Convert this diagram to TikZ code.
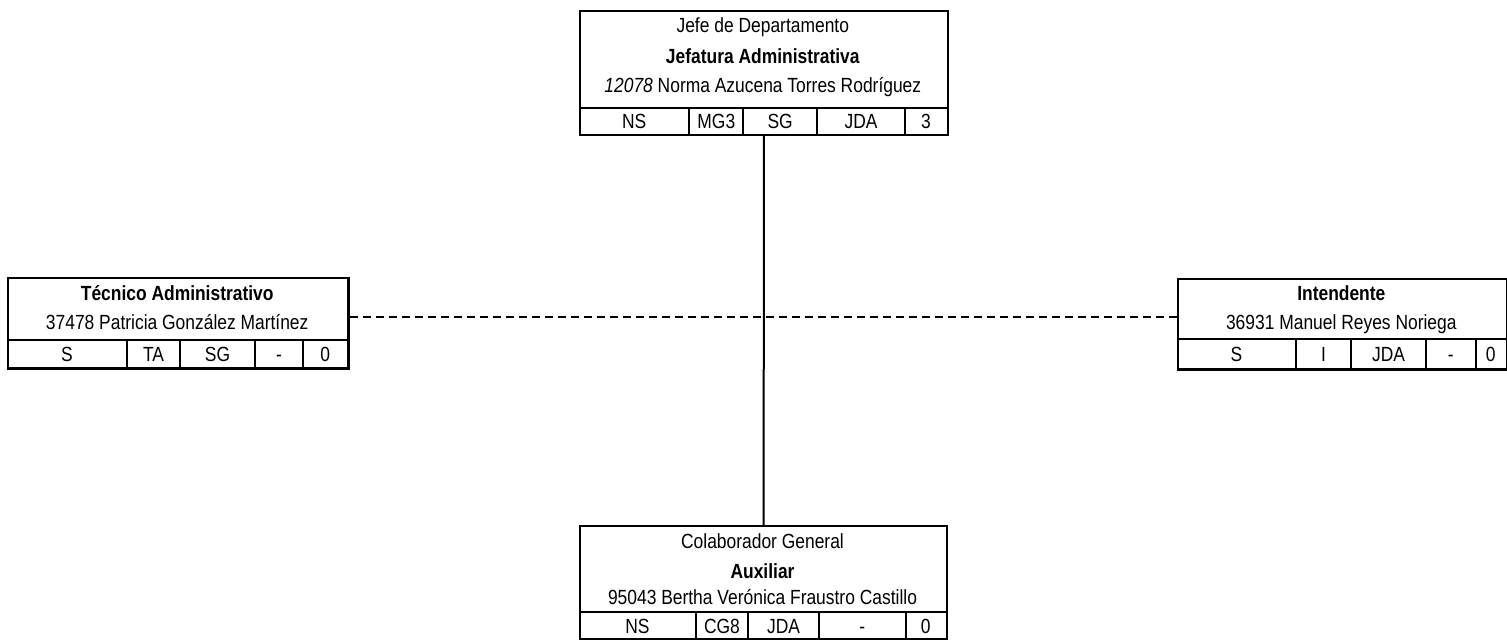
\documentclass[tikz,border=0pt]{standalone}
\usepackage{fontspec}
\setmainfont{Liberation Sans}[FakeStretch=0.85]
\begin{document}
\begin{tikzpicture}[x=1pt,y=-1pt,
  box/.style={draw, line width=2.2pt, inner sep=0pt, anchor=north west},
  div/.style={line width=2pt},
  lbl/.style={anchor=base, inner sep=0pt, font=\fontsize{20.5}{22}\selectfont},
  conn/.style={line width=2pt},
]
\useasboundingbox (0,0) rectangle (1507,640);

% ---------- top box ----------
\node[box, minimum width=367.7pt, minimum height=123.5pt] (jefe) at (579,10) {};
\draw[div] (579,108.3) -- (946.7,108.3);
\foreach \x in {689.3,743.3,817,905} \draw[div] (\x,108.3) -- (\x,133.5);
\node[lbl] (jefe-t1) at (762.8,32.5) {Jefe de Departamento};
\node[lbl] (jefe-t2) at (762.8,63) {\bfseries Jefatura Administrativa};
\node[lbl] (jefe-t3) at (762.8,92.5) {\textit{12078} Norma Azucena Torres Rodríguez};
\foreach \x/\t [count=\i] in {634.2/NS,716.3/MG3,780.2/SG,861/JDA,925.9/3}
  \node[lbl] (jefe-c\i) at (\x,128.5) {\t};

% ---------- left box ----------
\node[box, minimum width=340.3pt, minimum height=90.3pt] (tec) at (7,277) {};
\draw[div] (7,340) -- (347.3,340);
\foreach \x in {127,180,255,303} \draw[div] (\x,340) -- (\x,367.3);
\node[lbl] (tec-t1) at (177.2,300.5) {\bfseries Técnico Administrativo};
\node[lbl] (tec-t2) at (177.2,329.5) {37478 Patricia González Martínez};
\foreach \x/\t [count=\i] in {67/S,153.5/TA,217.5/SG,279/-,325.2/0}
  \node[lbl] (tec-c\i) at (\x,361) {\t};

% ---------- right box ----------
\node[box, minimum width=329.3pt, minimum height=90.3pt] (int) at (1176.7,278) {};
\draw[div] (1176.7,339) -- (1506,339);
\foreach \x in {1296,1351,1426,1475.7} \draw[div] (\x,339) -- (\x,368.3);
\node[lbl] (int-t1) at (1341.3,300.5) {\bfseries Intendente};
\node[lbl] (int-t2) at (1341.3,329.5) {36931 Manuel Reyes Noriega};
\foreach \x/\t [count=\i] in {1236.3/S,1323.5/I,1388.5/JDA,1450.8/-,1490.8/0}
  \node[lbl] (int-c\i) at (\x,361.5) {\t};

% ---------- bottom box ----------
\node[box, minimum width=367pt, minimum height=113pt] (aux) at (579,525) {};
\draw[div] (579,612.3) -- (946,612.3);
\foreach \x in {696,748,819,905.7} \draw[div] (\x,612.3) -- (\x,638);
\node[lbl] (aux-t1) at (762.5,548) {Colaborador General};
\node[lbl] (aux-t2) at (762.5,578) {\bfseries Auxiliar};
\node[lbl] (aux-t3) at (762.5,604.5) {95043 Bertha Verónica Fraustro Castillo};
\foreach \x/\t [count=\i] in {637.5/NS,722/CG8,783.5/JDA,862.3/-,925.8/0}
  \node[lbl] (aux-c\i) at (\x,633.5) {\t};

% ---------- connectors ----------
\draw[conn] (jefe.south) -- (aux.north);
\draw[conn, dash pattern=on 8pt off 5pt] (tec.east |- 0,317.3) -- (int.west |- 0,317.3);
\end{tikzpicture}
\end{document}
